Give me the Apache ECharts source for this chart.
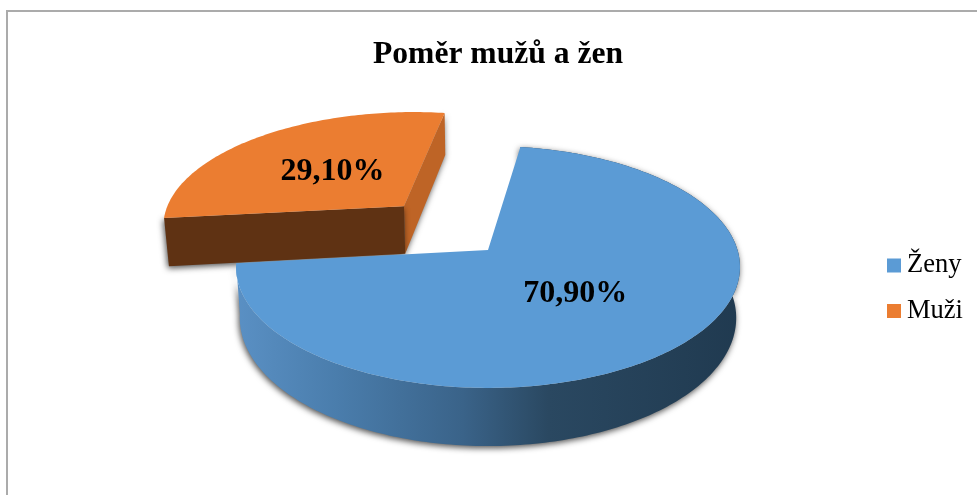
<!DOCTYPE html>
<html><head><meta charset="utf-8">
<style>html,body{margin:0;padding:0;background:#fff}#c{width:977px;height:495px}</style>
<script src="https://cdn.jsdelivr.net/npm/echarts@6/dist/echarts.min.js"></script>
</head><body><div id="c"></div>
<script>
const titleText = 'Poměr mužů a žen';
const categories = ['Ženy', 'Muži'];
const shares = [70.9, 29.1];
const explode = [0, 0.527];
const topColors = ['#5B9BD5', '#EB7D31'];

const FONT = '"Liberation Serif","Times New Roman",serif';
const view = {cx: 488, cy: 250, A: 249.5, B: 118.6, k: 0.14, depth: 50, shrink: 0.985, startDeg: 8.5, twist: 1.5};
const rad = d => d * Math.PI / 180;
const total = shares.reduce((a, b) => a + b, 0);

function project(X, Y, down) {
  const w = 1 + view.k * Y;
  let x = view.A * X / w;
  let y = -view.B * Y / w;
  if (down) { x *= view.shrink; y += view.depth / w; }
  return [view.cx + x, view.cy + y];
}

function renderSlice(idx) {
  return function (params, api) {
    const value = api.value(0);
    let before = 0;
    for (let i = 0; i < idx; i++) before += shares[i];
    const a0 = view.startDeg + before / total * 360;
    const a1 = a0 + value / total * 360;
    const mid = rad((a0 + a1) / 2 + view.twist);
    const ex = explode[idx] * Math.sin(mid), ey = explode[idx] * Math.cos(mid);
    const pt = (deg, r, down) => project(ex + r * Math.sin(rad(deg)), ey + r * Math.cos(rad(deg)), down);
    const rim = [], rimBottom = [];
    for (let d = a0; d <= a1 + 1e-6; d += 1) { rim.push(pt(d, 1, false)); rimBottom.push(pt(d, 1, true)); }
    rim.push(pt(a1, 1, false)); rimBottom.push(pt(a1, 1, true));
    const apexT = pt(0, 0, false), apexB = pt(0, 0, true);
    const shadow = {shadowBlur: 6, shadowColor: 'rgba(0,0,0,0.7)', shadowOffsetX: -1, shadowOffsetY: 2};
    const children = [];
    if (idx === 0) {
      children.push({type: 'polygon', shape: {points: rim.concat(rimBottom.slice().reverse())},
        style: Object.assign({fill: new echarts.graphic.LinearGradient(0, 0, 1, 0, [
          {offset: 0, color: '#5A90C4'}, {offset: 0.2, color: '#4A7DAC'}, {offset: 0.45, color: '#3A6389'},
          {offset: 0.62, color: '#2A4861'}, {offset: 1, color: '#203A50'}])}, shadow)});
    } else {
      children.push({type: 'polygon', shape: {points: [apexT, pt(a1, 1, false), pt(a1, 1, true), apexB]},
        style: Object.assign({fill: '#BE6426'}, shadow)});
      children.push({type: 'polygon', shape: {points: [apexT, pt(a0, 1, false), pt(a0, 1, true), apexB]},
        style: Object.assign({fill: '#5F3213'}, shadow)});
    }
    children.push({type: 'polygon', shape: {points: [apexT].concat(rim)}, style: {fill: topColors[idx]}});
    const lp = pt((a0 + a1) / 2, 0.48, false);
    children.push({type: 'text', style: {
      text: value.toFixed(2).replace('.', ',') + '%', x: lp[0], y: lp[1] + 1,
      fill: '#000', font: 'bold 32px ' + FONT, textAlign: 'center', textVerticalAlign: 'middle'}});
    return {type: 'group', children};
  };
}

const chart = echarts.init(document.getElementById('c'), null, {renderer: 'canvas'});
chart.setOption({
  animation: false,
  backgroundColor: '#fff',
  title: {text: titleText, left: 493, top: 34, textAlign: 'center',
    textStyle: {fontFamily: FONT, fontSize: 31.6, fontWeight: 'bold', color: '#000'}},
  legend: {orient: 'vertical', left: 882, top: 247, itemWidth: 14, itemHeight: 14, itemGap: 18.5, icon: 'rect',
    data: categories, selectedMode: false,
    textStyle: {fontFamily: FONT, fontSize: 26.5, color: '#000', padding: [0, 0, 0, 1]}},
  graphic: [
    {type: 'line', shape: {x1: 7, y1: 11, x2: 977, y2: 11}, style: {stroke: '#ABABAB', lineWidth: 2}},
    {type: 'line', shape: {x1: 7, y1: 10, x2: 7, y2: 495}, style: {stroke: '#ABABAB', lineWidth: 2}}
  ],
  series: categories.map((name, i) => ({
    type: 'custom', name, coordinateSystem: 'none', silent: true, z: 5 - i,
    itemStyle: {color: topColors[i]},
    renderItem: renderSlice(i),
    data: [shares[i]]
  }))
});
</script></body></html>
